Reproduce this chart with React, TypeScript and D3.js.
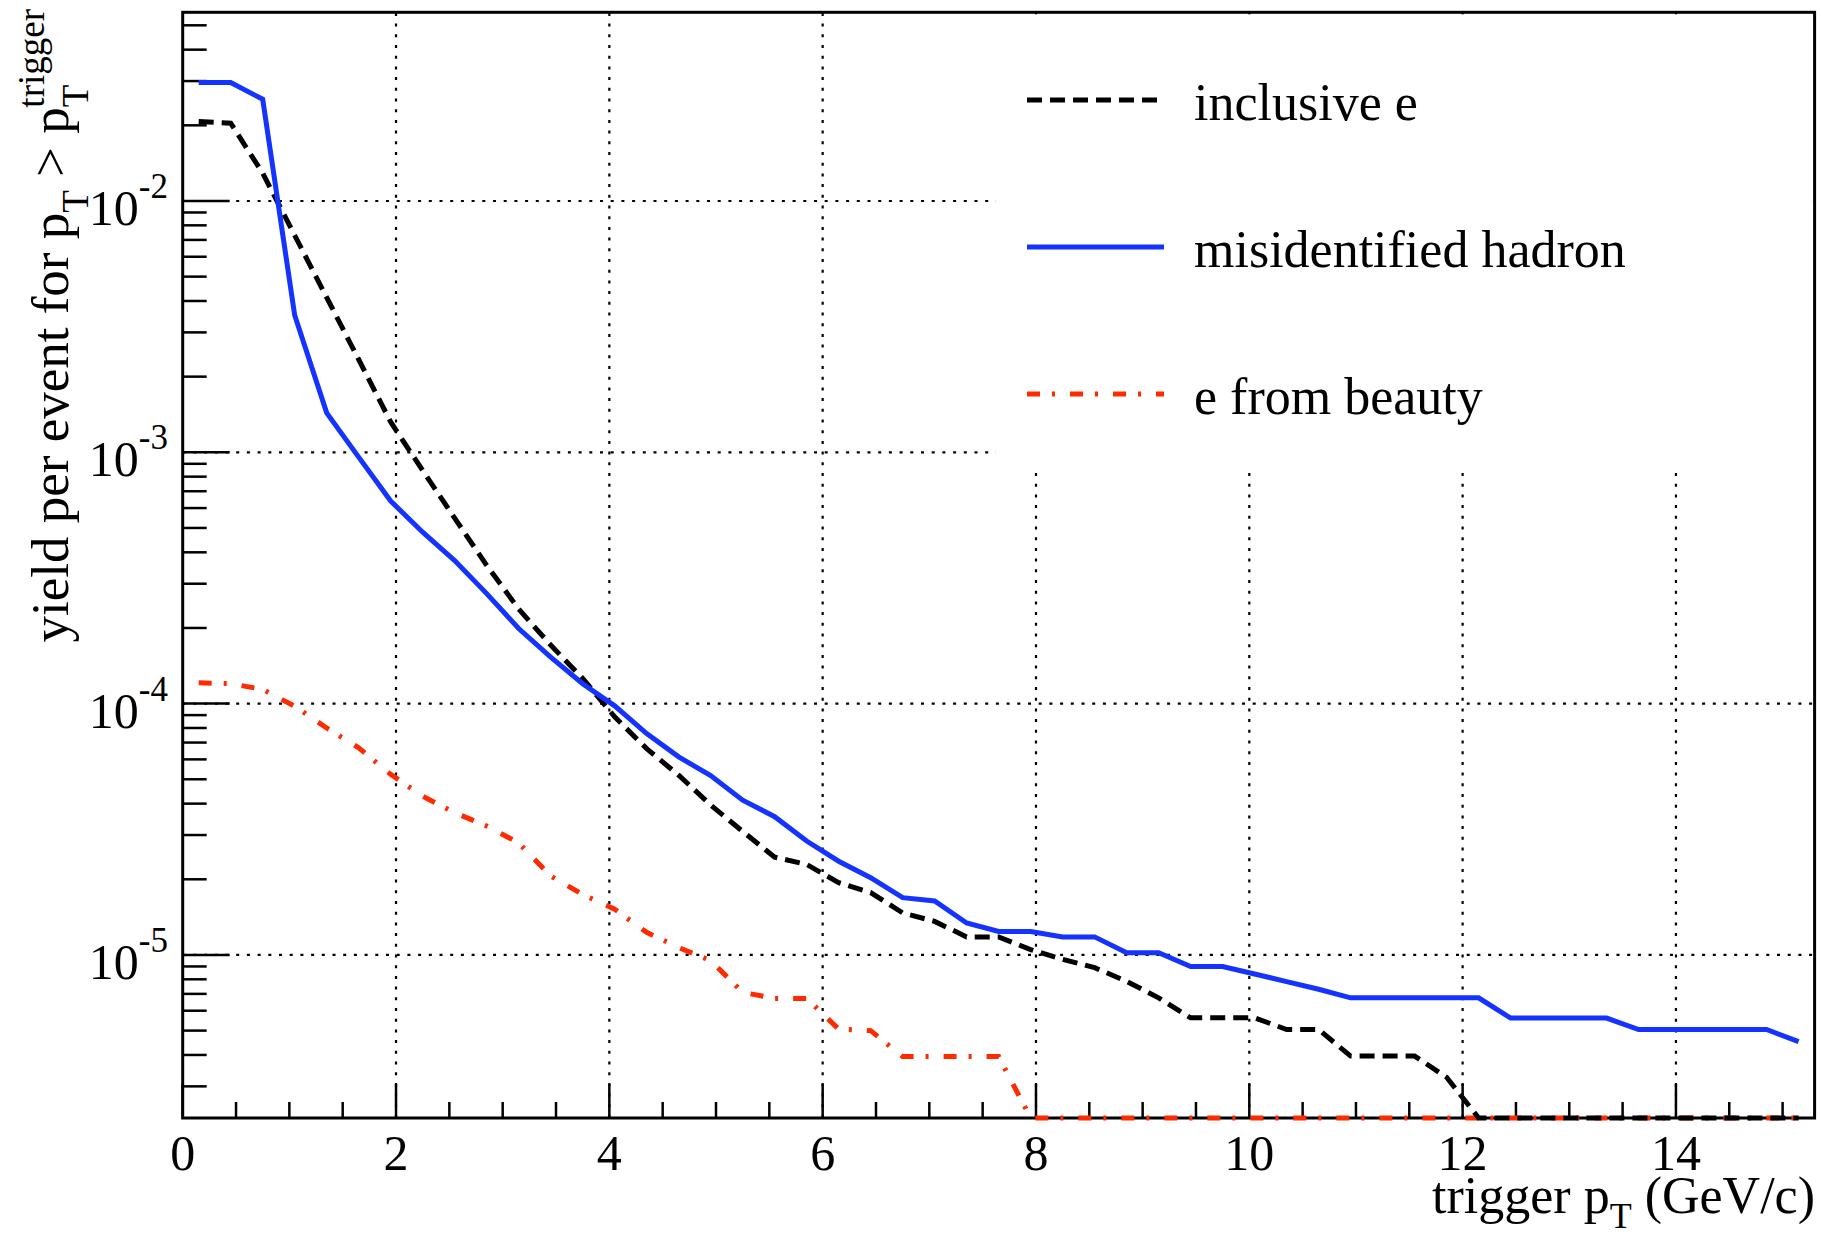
import React from 'react';
import * as d3 from 'd3';

const BIN_CENTERS: number[] = [
  0.15, 0.45, 0.75, 1.05, 1.35, 1.65, 1.95, 2.25, 2.55, 2.85,
  3.15, 3.45, 3.75, 4.05, 4.35, 4.65, 4.95, 5.25, 5.55, 5.85,
  6.15, 6.45, 6.75, 7.05, 7.35, 7.65, 7.95, 8.25, 8.55, 8.85,
  9.15, 9.45, 9.75, 10.05, 10.35, 10.65, 10.95, 11.25, 11.55, 11.85,
  12.15, 12.45, 12.75, 13.05, 13.35, 13.65, 13.95, 14.25, 14.55, 14.85,
  15.15,
];

const INCLUSIVE_E: number[] = [
  2.07e-2, 2.04e-2, 1.29e-2, 7.3e-3, 4.13e-3, 2.34e-3, 1.32e-3, 8.46e-4, 5.47e-4, 3.55e-4,
  2.38e-4, 1.71e-4, 1.26e-4, 8.86e-5, 6.62e-5, 5.19e-5, 3.95e-5, 3.1e-5, 2.45e-5, 2.29e-5,
  1.94e-5, 1.77e-5, 1.47e-5, 1.36e-5, 1.18e-5, 1.18e-5, 1.05e-5, 9.6e-6, 8.9e-6, 7.85e-6,
  6.75e-6, 5.62e-6, 5.62e-6, 5.62e-6, 5.05e-6, 5.05e-6, 3.96e-6, 3.96e-6, 3.96e-6, 3.26e-6,
  0, 0, 0, 0, 0, 0, 0, 0, 0, 0,
  0,
];

const MISID_HADRON: number[] = [
  2.96e-2, 2.96e-2, 2.54e-2, 3.51e-3, 1.435e-3, 9.57e-4, 6.4e-4, 4.81e-4, 3.71e-4, 2.74e-4,
  1.99e-4, 1.53e-4, 1.2e-4, 9.8e-5, 7.6e-5, 6.14e-5, 5.17e-5, 4.13e-5, 3.55e-5, 2.84e-5,
  2.36e-5, 2.03e-5, 1.69e-5, 1.64e-5, 1.34e-5, 1.24e-5, 1.24e-5, 1.18e-5, 1.18e-5, 1.02e-5,
  1.02e-5, 9.0e-6, 9.0e-6, 8.4e-6, 7.83e-6, 7.3e-6, 6.75e-6, 6.75e-6, 6.75e-6, 6.75e-6,
  6.75e-6, 5.61e-6, 5.61e-6, 5.61e-6, 5.61e-6, 5.05e-6, 5.05e-6, 5.05e-6, 5.05e-6, 5.05e-6,
  4.52e-6,
];

const E_FROM_BEAUTY: number[] = [
  1.21e-4, 1.2e-4, 1.14e-4, 9.76e-5, 8.0e-5, 6.67e-5, 5.23e-5, 4.28e-5, 3.68e-5, 3.26e-5,
  2.79e-5, 2.06e-5, 1.74e-5, 1.52e-5, 1.23e-5, 1.07e-5, 9.5e-6, 7.1e-6, 6.71e-6, 6.71e-6,
  5.07e-6, 5.0e-6, 3.94e-6, 3.94e-6, 3.94e-6, 3.94e-6, 0, 0, 0, 0,
  0, 0, 0, 0, 0, 0, 0, 0, 0, 0,
  0, 0, 0, 0, 0, 0, 0, 0, 0, 0,
  0,
];

const X_TICK_LABELS: number[] = [0, 2, 4, 6, 8, 10, 12, 14];
const Y_DECADES: number[] = [-2, -3, -4, -5];
const LEGEND_LABELS: string[] = ['inclusive e', 'misidentified hadron', 'e from beauty'];

const FONT = "'Liberation Serif', 'Times New Roman', Times, serif";

export default function App() {
  const W = 1821;
  const H = 1237;
  const left = 182.7;
  const right = 1814.6;
  const top = 12.3;
  const bottom = 1118;
  const yMin = 2.245e-6;
  const yMax = 0.05633;

  const x = d3.scaleLinear().domain([0, 15.3]).range([left, right]);
  const y = d3.scaleLog().domain([yMin, yMax]).range([bottom, top]);

  const line = d3
    .line<number>()
    .x((_, i) => x(BIN_CENTERS[i]))
    .y((v) => y(Math.max(v, yMin)));

  const series = [
    { name: LEGEND_LABELS[0], data: INCLUSIVE_E, color: '#000000', dash: '15 8' },
    { name: LEGEND_LABELS[1], data: MISID_HADRON, color: '#1433ff', dash: undefined as string | undefined },
    { name: LEGEND_LABELS[2], data: E_FROM_BEAUTY, color: '#ff2a00', dash: '13 12 3 15' },
  ];
  const drawOrder = [2, 0, 1];

  const yMinor: number[] = [];
  for (let d = -6; d <= -1; d++) {
    for (let m = 2; m <= 9; m++) {
      const v = m * Math.pow(10, d);
      if (v >= yMin && v <= yMax) yMinor.push(v);
    }
  }
  const xMinor = d3.range(0, 15.31, 0.5).filter((v) => Math.abs(v / 2 - Math.round(v / 2)) > 1e-6);

  const legendBox = { x0: 996, y0: top + 2, x1: right - 2, y1: 470 };
  const legendRows = [100, 247, 394];

  return (
    <svg
      width={W}
      height={H}
      viewBox={`0 0 ${W} ${H}`}
      style={{ position: 'absolute', left: 0, top: 0, background: '#fff' }}
      fontFamily={FONT}
    >
      <rect x={0} y={0} width={W} height={H} fill="#fff" />
      <defs>
        <clipPath id="plotclip">
          <rect x={left} y={top} width={right - left} height={bottom - top + 4} />
        </clipPath>
      </defs>

      <g stroke="#000" strokeWidth={2.2} strokeDasharray="3 7.7">
        {X_TICK_LABELS.filter((v) => v > 0).map((v) => (
          <line key={'gx' + v} x1={x(v)} x2={x(v)} y1={bottom} y2={top} />
        ))}
        {Y_DECADES.map((d) => (
          <line key={'gy' + d} x1={left} x2={right} y1={y(Math.pow(10, d))} y2={y(Math.pow(10, d))} />
        ))}
      </g>

      <rect
        x={legendBox.x0}
        y={legendBox.y0}
        width={legendBox.x1 - legendBox.x0}
        height={legendBox.y1 - legendBox.y0}
        fill="#fff"
      />

      <g stroke="#000" strokeWidth={2.5}>
        {Y_DECADES.map((d) => (
          <line key={'ty' + d} x1={left} x2={left + 47} y1={y(Math.pow(10, d))} y2={y(Math.pow(10, d))} />
        ))}
        {yMinor.map((v, i) => (
          <line key={'tym' + i} x1={left} x2={left + 24} y1={y(v)} y2={y(v)} />
        ))}
        {X_TICK_LABELS.map((v) => (
          <line key={'tx' + v} x1={x(v)} x2={x(v)} y1={bottom} y2={bottom - 34} />
        ))}
        {xMinor.map((v, i) => (
          <line key={'txm' + i} x1={x(v)} x2={x(v)} y1={bottom} y2={bottom - 16} />
        ))}
      </g>

      <rect x={left} y={top} width={right - left} height={bottom - top} fill="none" stroke="#000" strokeWidth={3} />

      <g clipPath="url(#plotclip)" fill="none">
        {drawOrder.map((k) => {
          const s = series[k];
          return (
            <path
              key={s.name}
              d={line(s.data) || ''}
              stroke={s.color}
              strokeWidth={5}
              strokeDasharray={s.dash}
              strokeLinejoin="miter"
            />
          );
        })}
      </g>

      {series.map((s, i) => (
        <g key={'leg' + i}>
          <line
            x1={1027}
            x2={1164}
            y1={legendRows[i]}
            y2={legendRows[i]}
            stroke={s.color}
            strokeWidth={5}
            strokeDasharray={s.dash}
          />
          <text x={1194} y={legendRows[i] + 19.5} fontSize={52} fill="#000" fontFamily={FONT}>
            {s.name}
          </text>
        </g>
      ))}

      {Y_DECADES.map((d) => (
        <text key={'ly' + d} x={168} y={y(Math.pow(10, d)) + 24} fontSize={50} textAnchor="end" fill="#000">
          10
          <tspan dy={-27} fontSize={35}>
            {String(d)}
          </tspan>
        </text>
      ))}

      {X_TICK_LABELS.map((v) => (
        <text key={'lx' + v} x={x(v)} y={1170} fontSize={50} textAnchor="middle" fill="#000">
          {String(v)}
        </text>
      ))}

      <text x={1815} y={1213} fontSize={52} textAnchor="end" fill="#000">
        trigger p
        <tspan dy={15} fontSize={36}>
          T
        </tspan>
        <tspan dy={-15}> (GeV/c)</tspan>
      </text>

      <text transform="translate(68,9) rotate(-90)" fontSize={53} textAnchor="end" fill="#000">
        yield per event for p
        <tspan dy={20} fontSize={37}>
          T
        </tspan>
        <tspan dy={-20}> &gt; p</tspan>
        <tspan dy={20} fontSize={37}>
          T
        </tspan>
        <tspan dx={-23} dy={-44} fontSize={37}>
          trigger
        </tspan>
      </text>
    </svg>
  );
}
